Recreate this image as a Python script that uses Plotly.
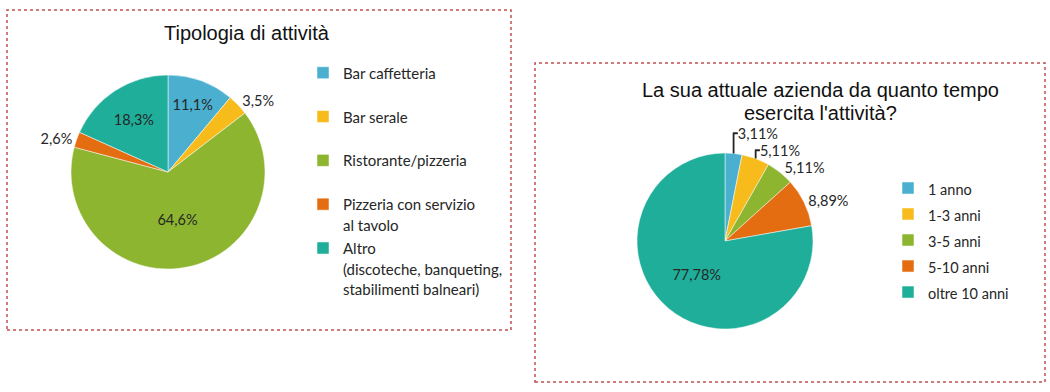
import plotly.graph_objects as go

# ---- data ----
left_title = "Tipologia di attività"
left_labels = ["Bar caffetteria", "Bar serale", "Ristorante/pizzeria",
               "Pizzeria con servizio<br>al tavolo",
               "Altro<br>(discoteche, banqueting,<br>stabilimenti balneari)"]
left_values = [11.1, 3.5, 64.6, 2.6, 18.3]
left_colors = ["#4BB0CF", "#F7BC1C", "#8DB530", "#E46D12", "#1EAE9A"]
left_textpos = ["inside", "outside", "inside", "outside", "inside"]

right_title_lines = ["La sua attuale azienda da quanto tempo", "esercita l'attività?"]
right_labels = ["1 anno", "1-3 anni", "3-5 anni", "5-10 anni", "oltre 10 anni"]
right_values = [3.11, 5.11, 5.11, 8.89, 77.78]
right_colors = ["#4BB0CF", "#F7BC1C", "#8DB530", "#E46D12", "#1EAE9A"]
right_textpos = ["outside", "outside", "outside", "outside", "inside"]

W, H = 1050, 392
LFONT = "Lato"
TFONT = "Liberation Sans, Arial"


def px_x(x):
    return x / W


def px_y(y):
    return 1 - y / H


def fmt(v, d):
    return (f"{v:.{d}f}").replace(".", ",") + "%"


def span(s, size):
    return "<br>".join(f'<span style="font-size:{size}px">{p}</span>' for p in s.split("<br>"))


# pad single-line legend entries so every entry takes ~2 lines
left_legend_labels = [span(l if "<br>" in l else l + "<br> ", 15) for l in left_labels]
right_legend_labels = [span(l, 14.5) for l in right_labels]

fig = go.Figure()

fig.add_trace(go.Pie(
    labels=left_legend_labels, values=left_values,
    text=[fmt(v, 1) for v in left_values], textinfo="text",
    textposition=left_textpos, insidetextorientation="horizontal",
    marker=dict(colors=left_colors, line=dict(color="white", width=0.5)),
    sort=False, direction="clockwise", rotation=0,
    domain=dict(x=[px_x(71), px_x(265)], y=[px_y(269), px_y(75)]),
    textfont=dict(family=LFONT, size=14.5, color="#262626"),
    hoverinfo="text", legend="legend", showlegend=True,
))

fig.add_trace(go.Pie(
    labels=right_legend_labels, values=right_values,
    text=[fmt(v, 2) for v in right_values], textinfo="text",
    textposition=right_textpos, insidetextorientation="horizontal",
    marker=dict(colors=right_colors, line=dict(color="white", width=0.5)),
    sort=False, direction="clockwise", rotation=0,
    domain=dict(x=[px_x(637), px_x(813)], y=[px_y(329), px_y(153)]),
    textfont=dict(family=LFONT, size=14.5, color="#262626"),
    hoverinfo="text", legend="legend2", showlegend=True,
))

border = dict(color="#C0504D", width=1.5, dash="dot")
shapes = [
    dict(type="rect", xref="paper", yref="paper",
         x0=px_x(7), x1=px_x(511), y0=px_y(330), y1=px_y(10), line=border),
    dict(type="rect", xref="paper", yref="paper",
         x0=px_x(535), x1=px_x(1045), y0=px_y(382), y1=px_y(63), line=border),
]

annotations = [
    dict(text=left_title, x=px_x(247), y=px_y(33), xref="paper", yref="paper",
         showarrow=False, xanchor="center", yanchor="middle",
         font=dict(family=TFONT, size=20, color="#111111")),
]
for i, line in enumerate(right_title_lines):
    annotations.append(dict(text=line, x=px_x(820), y=px_y(90 + 23 * i),
                            xref="paper", yref="paper", showarrow=False,
                            xanchor="center", yanchor="middle",
                            font=dict(family=TFONT, size=20, color="#111111")))

fig.update_layout(
    width=W, height=H,
    margin=dict(l=0, r=0, t=0, b=0),
    paper_bgcolor="white", plot_bgcolor="white",
    shapes=shapes, annotations=annotations,
    legend=dict(x=px_x(303), y=px_y(56), xanchor="left", yanchor="top",
                valign="top", bgcolor="rgba(0,0,0,0)",
                font=dict(family=LFONT, size=15.7, color="#262626")),
    legend2=dict(x=px_x(888), y=px_y(170), xanchor="left", yanchor="top",
                 valign="top", bgcolor="rgba(0,0,0,0)",
                 font=dict(family=LFONT, size=17.7, color="#262626")),
)

fig.write_html("out.html", config={"displayModeBar": False},
               post_script="document.body.style.margin='0';")
